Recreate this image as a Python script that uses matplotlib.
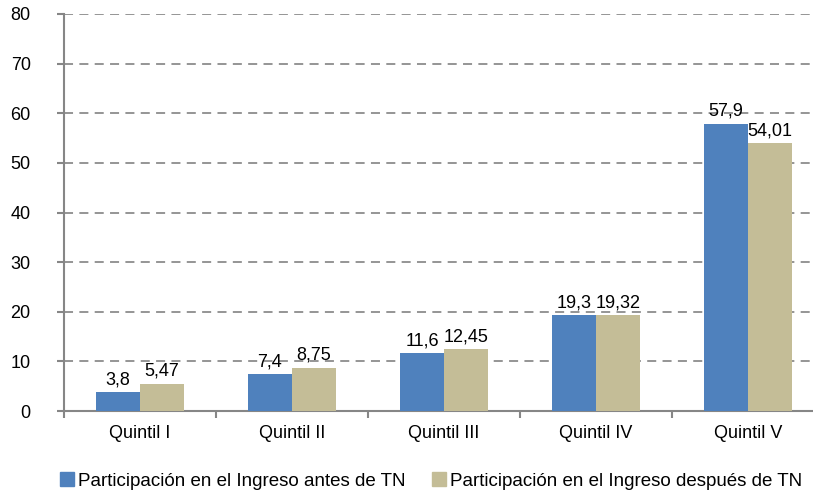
import numpy as np
import matplotlib
matplotlib.use("Agg")
from matplotlib import pyplot as plt
from matplotlib.patches import Patch

plt.rcParams['font.family'] = ['Liberation Sans', 'DejaVu Sans']
plt.rcParams['font.size'] = 13

quintiles = ['Quintil I', 'Quintil II', 'Quintil III', 'Quintil IV', 'Quintil V']
antes = [3.8, 7.4, 11.6, 19.3, 57.9]
despues = [5.47, 8.75, 12.45, 19.32, 54.01]
antes_lbl = ['3,8', '7,4', '11,6', '19,3', '57,9']
despues_lbl = ['5,47', '8,75', '12,45', '19,32', '54,01']
serie_names = ['Participación en el Ingreso antes de TN',
               'Participación en el Ingreso después de TN']

c_blue = '#4F81BD'
c_tan = '#C4BD97'
c_axis = '#868686'

fig = plt.figure(figsize=(8.13, 4.96), dpi=100)
ax = fig.add_axes([64 / 813, 1 - 411 / 496, 760 / 813, 397 / 496])

x = np.arange(len(quintiles))
w = 0.29
b1 = ax.bar(x - w / 2, antes, w, color=c_blue, zorder=3)
b2 = ax.bar(x + w / 2, despues, w, color=c_tan, zorder=3)

for rect, t in zip(b1, antes_lbl):
    ax.text(rect.get_x() + rect.get_width() / 2, rect.get_height() + 0.8, t,
            ha='center', va='bottom', fontsize=13)
for rect, t in zip(b2, despues_lbl):
    ax.text(rect.get_x() + rect.get_width() / 2, rect.get_height() + 0.8, t,
            ha='center', va='bottom', fontsize=13)

ax.set_xlim(-0.5, len(quintiles) - 0.5)
ax.set_ylim(0, 80)
ax.set_yticks(range(0, 81, 10))
ax.set_xticks(np.arange(-0.5, len(quintiles), 1))
ax.set_xticklabels([])
ax.set_xticks(x, minor=True)
ax.set_xticklabels(quintiles, minor=True)
ax.tick_params(axis='x', which='minor', length=0, pad=10)
ax.tick_params(axis='x', which='major', length=5, color=c_axis, width=1.5)
ax.tick_params(axis='y', length=5, color=c_axis, width=1.5, pad=19)

ax.yaxis.grid(True, linestyle=(0, (5, 3.5)), color='#8C8C8C', linewidth=1.3, zorder=0)
for s in ['top', 'right']:
    ax.spines[s].set_visible(False)
for s in ['left', 'bottom']:
    ax.spines[s].set_color(c_axis)
    ax.spines[s].set_linewidth(1.5)

handles = [Patch(color=c_blue), Patch(color=c_tan)]
fig.legend(handles, serie_names, loc='center', bbox_to_anchor=(431 / 813, 1 - 481 / 496),
           ncol=2, frameon=False, fontsize=13.5, handlelength=0.75, handleheight=0.75,
           handletextpad=0.2, columnspacing=1.4)

fig.savefig('out.png', dpi=100)
